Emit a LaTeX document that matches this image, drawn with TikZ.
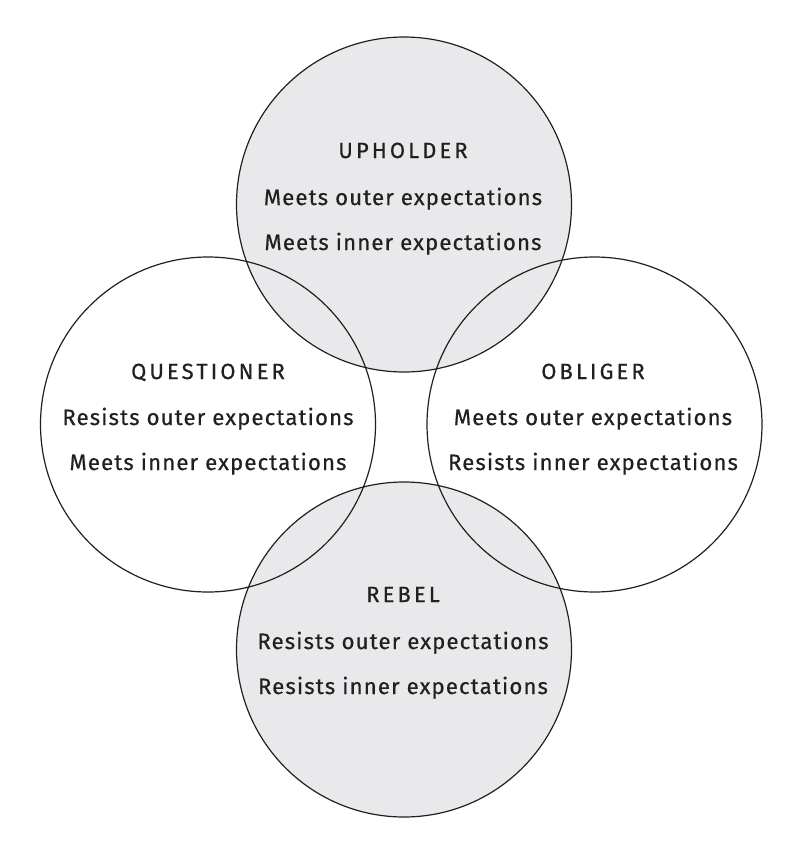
\documentclass[tikz,border=0pt]{standalone}
\usepackage{fontspec}
\setmainfont[LetterSpace=5,FakeBold=0.5]{Fira Sans}
\newfontfamily\titlefont[LetterSpace=14,FakeBold=0.5]{Fira Sans}
\definecolor{fillgray}{HTML}{E9E9EB}
\definecolor{ink}{HTML}{231F20}
\begin{document}
\begin{tikzpicture}[x=1pt,y=-1pt,
  ring/.style={draw=ink,line width=1.2pt},
  title/.style={anchor=base,inner sep=0pt,text=ink,font=\titlefont\fontsize{22}{24}\selectfont},
  desc/.style={anchor=base,inner sep=0pt,text=ink,font=\fontsize{22.2}{24}\selectfont}]
\useasboundingbox[fill=white] (0,0) rectangle (800,847);
\def\R{167.5}
\coordinate (cu) at (404,204.5);
\coordinate (cq) at (208,424.5);
\coordinate (co) at (594.5,424.5);
\coordinate (cr) at (404,649.5);
\fill[fillgray] (cu) circle[radius=\R];
\fill[fillgray] (cr) circle[radius=\R];
\draw[ring] (cu) circle[radius=\R];
\draw[ring] (cq) circle[radius=\R];
\draw[ring] (co) circle[radius=\R];
\draw[ring] (cr) circle[radius=\R];
% Upholder
\node[title] (ut) at (403,158) {UPHOLDER};
\node[desc] (u1) at (403,205) {Meets outer expectations};
\node[desc] (u2) at (403,250) {Meets inner expectations};
% Questioner
\node[title] (qt) at (208,379) {QUESTIONER};
\node[desc] (q1) at (208,425) {Resists outer expectations};
\node[desc] (q2) at (208,470) {Meets inner expectations};
% Obliger
\node[title] (ot) at (593,379) {OBLIGER};
\node[desc] (o1) at (593,425) {Meets outer expectations};
\node[desc] (o2) at (593,470) {Resists inner expectations};
% Rebel
\node[title] (rt) at (403,602) {REBEL};
\node[desc] (r1) at (403,649) {Resists outer expectations};
\node[desc] (r2) at (403,694) {Resists inner expectations};
\end{tikzpicture}
\end{document}
